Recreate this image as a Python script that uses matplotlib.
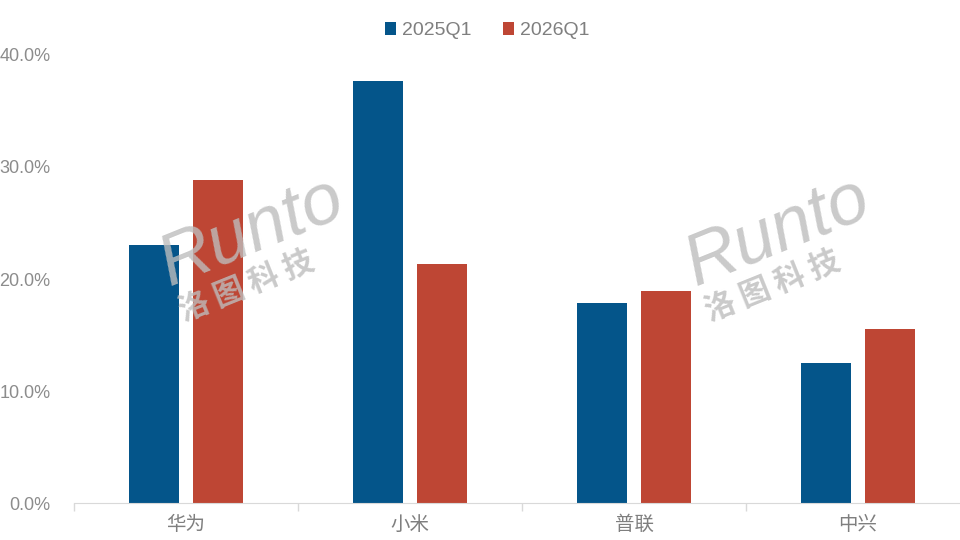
import matplotlib.pyplot as plt
import numpy as np

brands = ['华为', '小米', '普联', '中兴']
series_names = ['2025Q1', '2026Q1']
share_2025 = [23.0, 37.7, 17.9, 12.5]
share_2026 = [28.8, 21.3, 18.9, 15.5]
colors = ['#04558A', '#BE4634']

plt.rcParams['font.family'] = ['Liberation Sans', 'Noto Sans CJK SC', 'DejaVu Sans']

fig = plt.figure(figsize=(9.6, 5.4), dpi=100)
ax = fig.add_axes([74 / 960, 37 / 540, 896 / 960, (503 - 55) / 540])

x = np.arange(len(brands))
w = 0.223
off = 0.142
ax.bar(x - off, share_2025, w, color=colors[0], label=series_names[0], zorder=2)
ax.bar(x + off, share_2026, w, color=colors[1], label=series_names[1], zorder=2)

ax.set_xlim(-0.5, len(brands) - 0.5)
ax.set_ylim(0, 40)
ax.set_yticks([0, 10, 20, 30, 40])
ax.set_yticklabels([f'{v:.1f}%' for v in [0, 10, 20, 30, 40]])
ax.set_xticks(x)
ax.set_xticklabels(brands, family=['Noto Sans CJK SC'])

# category separators on the axis
ax.set_xticks(np.arange(len(brands) + 1) - 0.5, minor=True)
ax.tick_params(axis='x', which='minor', length=6, color='#D9D9D9', width=1)
ax.tick_params(axis='x', which='major', length=0, labelsize=14, colors='#7F7F7F', pad=8)
ax.tick_params(axis='y', length=0, labelsize=13, colors='#8C8C8C', pad=17)

for side in ['top', 'right', 'left']:
    ax.spines[side].set_visible(False)
ax.spines['bottom'].set_color('#D9D9D9')

leg = ax.legend(loc='lower center', bbox_to_anchor=(0.461, 1.0), ncol=2, frameon=False,
                fontsize=14, handlelength=0.6, handleheight=0.6, handletextpad=0.3,
                columnspacing=1.6, borderaxespad=0.4)
for t in leg.get_texts():
    t.set_color('#7F7F7F')

# watermark
for wx, wy in [(0.262, 0.57), (0.81, 0.57)]:
    fig.text(wx, wy, 'Runto', fontsize=52, style='italic', color='#BDBDBD', alpha=0.8,
             rotation=22, ha='center', va='center', zorder=5)
    fig.text(wx - 0.005, wy - 0.1, '洛 图 科 技', fontsize=22, fontweight='bold', color='#BDBDBD',
             alpha=0.8, rotation=22, ha='center', va='center', family=['Noto Sans CJK SC'], zorder=5)

fig.savefig('out.png', dpi=100, facecolor='white')
